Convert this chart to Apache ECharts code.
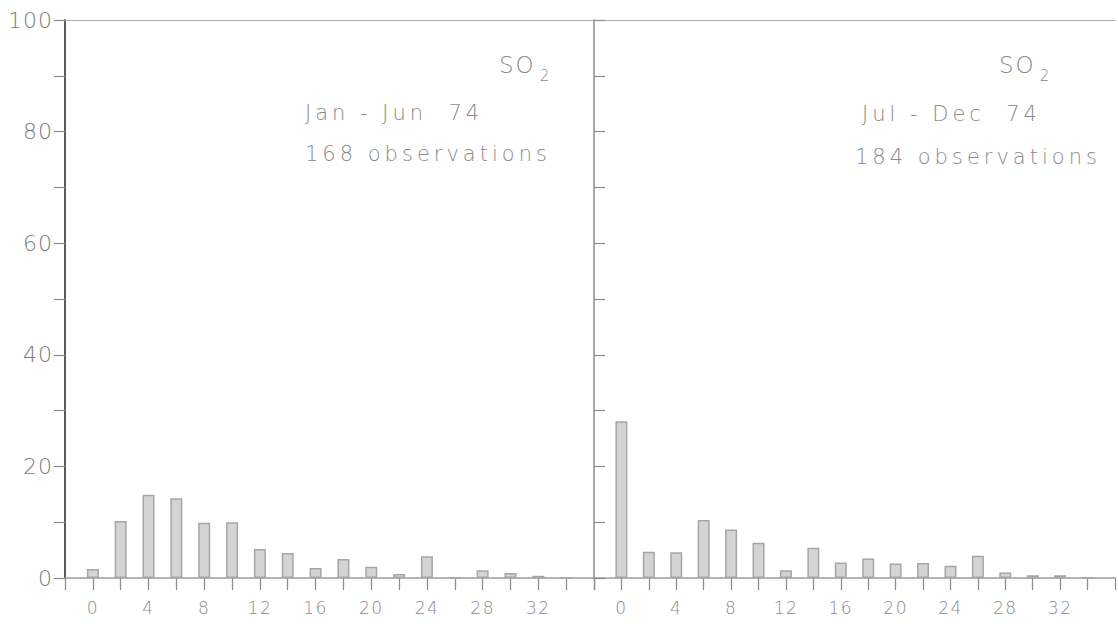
<!DOCTYPE html>
<html><head><meta charset="utf-8">
<script src="https://cdn.jsdelivr.net/npm/echarts@6/dist/echarts.min.js"></script>
<style>
html,body{margin:0;padding:0;background:#fff}
#c{width:1118px;height:624px}
#c text[style*="21px"]{letter-spacing:4px}
#c text[style*="23px"]{letter-spacing:2px}
#c text[style*="22px"]{letter-spacing:1px}
#c text[style*="17px"]{letter-spacing:1.5px}
</style>
</head><body><div id="c"></div>
<script>
// bin start values (concentration classes)
const bins = [0, 2, 4, 6, 8, 10, 12, 14, 16, 18, 20, 22, 24, 26, 28, 30, 32, 34];
// Jan - Jun 74, 168 observations
const janJun = [1.6, 10.2, 14.9, 14.3, 9.9, 10.0, 5.2, 4.5, 1.8, 3.4, 2.0, 0.7, 3.9, 0, 1.4, 0.9, 0.4, 0];
// Jul - Dec 74, 184 observations
const julDec = [28.1, 4.7, 4.6, 10.4, 8.7, 6.3, 1.4, 5.4, 2.8, 3.5, 2.6, 2.7, 2.2, 4.0, 1.0, 0.5, 0.5, 0];
const xTickLabels = [0, 4, 8, 12, 16, 20, 24, 28, 32];
const yTickLabels = [0, 20, 40, 60, 80, 100];

const FONT = 'DejaVu Sans';
const TXT = '#8a8a8a';

function bottomX(i) {
  return {
    gridIndex: i, type: 'value', min: -2, max: 36, interval: 2, position: 'bottom',
    axisLine: { show: true, onZero: false, lineStyle: { color: '#9c9c9c', width: 1.5 } },
    axisTick: { show: true, inside: false, length: 12, lineStyle: { color: '#8f8f8f', width: 1.3 } },
    axisLabel: {
      show: true, margin: 21, fontSize: 17, color: TXT, fontFamily: FONT, fontWeight: 200,
      formatter: v => xTickLabels.includes(v) ? String(v) : ''
    },
    splitLine: { show: false }
  };
}
function topX(i) {
  return {
    gridIndex: i, type: 'value', min: -2, max: 36, position: 'top',
    axisLine: { show: true, onZero: false, lineStyle: { color: '#acacac', width: 1.2 } },
    axisTick: { show: false }, axisLabel: { show: false }, splitLine: { show: false }
  };
}
function barSeries(i, arr) {
  return {
    type: 'bar', xAxisIndex: i * 2, yAxisIndex: i,
    data: bins.map((b, k) => [b, arr[k]]),
    barWidth: 12,
    itemStyle: { color: '#d4d4d4', borderColor: '#a6a6a6', borderWidth: 1.5 },
    silent: true
  };
}
function txt(x, y, s) {
  return { type: 'text', x: x, y: y, silent: true,
    style: { text: s, fontSize: 21, fontFamily: FONT, fontWeight: 200, fill: TXT, verticalAlign: 'middle', align: 'left' } };
}
function so2(x, y) {
  return { type: 'text', x: x, y: y, silent: true,
    style: { text: '{m|SO}{s|2}', verticalAlign: 'middle', align: 'left',
      rich: {
        m: { fontSize: 23, fontFamily: FONT, fontWeight: 200, fill: TXT, lineHeight: 36 },
        s: { fontSize: 15, fontFamily: FONT, fontWeight: 200, fill: TXT, lineHeight: 36, verticalAlign: 'bottom', padding: [0, 0, 0, 8] }
      } } };
}

const chart = echarts.init(document.getElementById('c'), null, { renderer: 'svg' });
chart.setOption({
  animation: false,
  backgroundColor: '#ffffff',
  grid: [
    { left: 65, top: 20, width: 529, height: 558 },
    { left: 594, top: 20, width: 529, height: 558 }
  ],
  xAxis: [bottomX(0), topX(0), bottomX(1), topX(1)],
  yAxis: [
    { gridIndex: 0, type: 'value', min: 0, max: 100, interval: 10, position: 'left',
      axisLine: { show: true, onZero: false, lineStyle: { color: '#5a5a5a', width: 2 } },
      axisTick: { show: true, length: 11, lineStyle: { color: '#8a8a8a', width: 1.2 } },
      axisLabel: { margin: 12, fontSize: 22, color: '#7c7c7c', fontFamily: FONT, fontWeight: 200,
        formatter: v => yTickLabels.includes(v) ? String(v) : '' },
      splitLine: { show: false } },
    { gridIndex: 1, type: 'value', min: 0, max: 100, interval: 10, position: 'left',
      axisLine: { show: true, onZero: false, lineStyle: { color: '#8c8c8c', width: 1.5 } },
      axisTick: { show: true, inside: true, length: 11, lineStyle: { color: '#8c8c8c', width: 1.2 } },
      axisLabel: { show: false }, splitLine: { show: false } }
  ],
  series: [barSeries(0, janJun), barSeries(1, julDec)],
  graphic: [
    so2(499, 65),
    txt(305, 113, 'Jan - Jun  74'),
    txt(305, 154, '168 observations'),
    so2(999, 65),
    txt(862, 114, 'Jul - Dec  74'),
    txt(855, 157, '184 observations')
  ]
});
</script>
</body></html>
